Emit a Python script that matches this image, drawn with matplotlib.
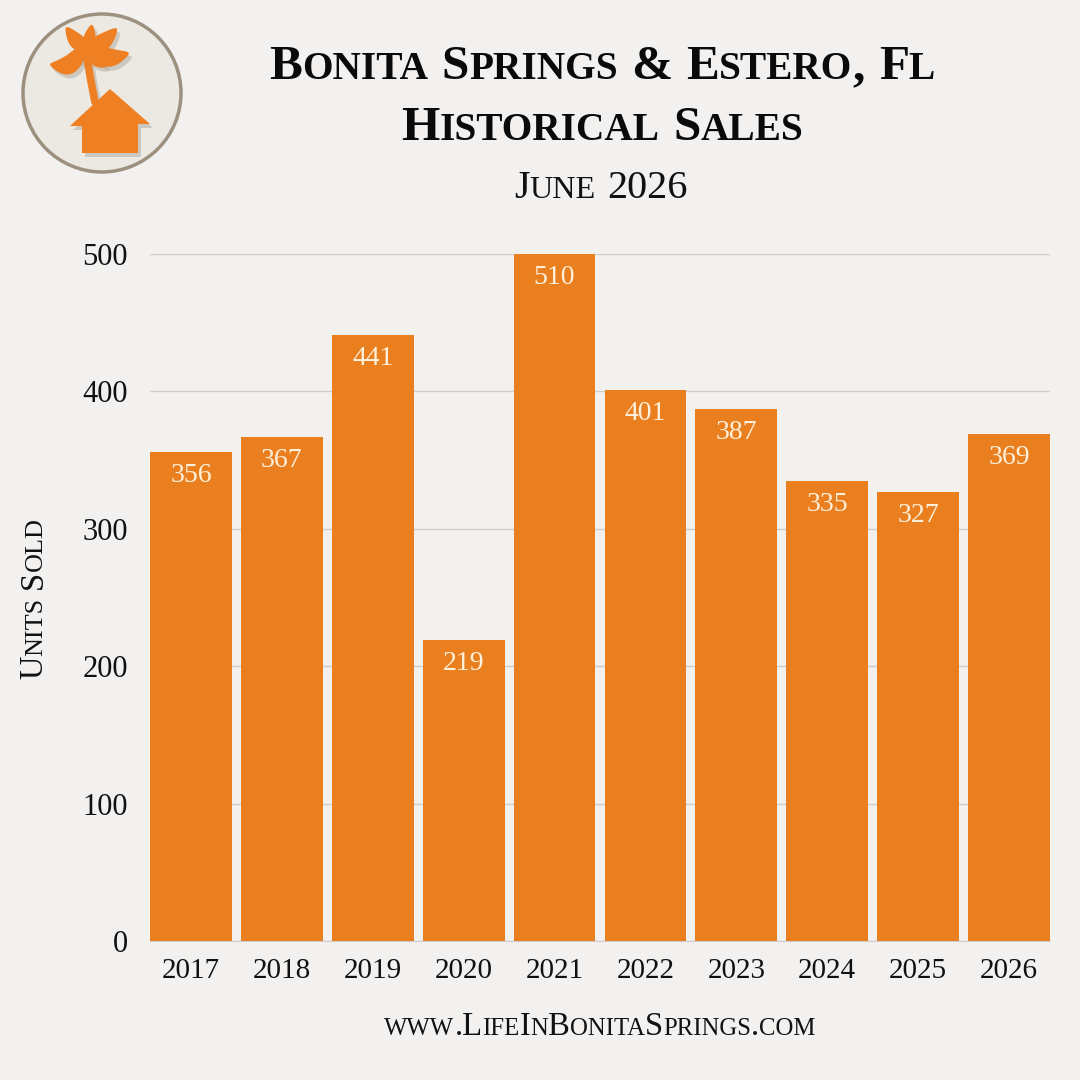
import matplotlib
matplotlib.use('Agg')
import matplotlib.pyplot as plt
from matplotlib.patches import Circle, Polygon
import numpy as np

# Datos del grafico
years = ['2017', '2018', '2019', '2020', '2021', '2022', '2023', '2024', '2025', '2026']
units = [356, 367, 441, 219, 510, 401, 387, 335, 327, 369]
yticks = [0, 100, 200, 300, 400, 500]

title1 = 'Bonita Springs & Estero, Fl'
title2 = 'Historical Sales'
subtitle = 'June 2026'
ylabel = 'Units Sold'
footer = 'www.LifeInBonitaSprings.com'

BG = '#F3F1EF'
ORANGE = '#EA7F20'
LABEL = '#FDF0DA'
FONT = ['Liberation Serif', 'DejaVu Serif']

plt.rcParams['font.family'] = FONT

W, H, DPI = 10.8, 10.8, 100
fig = plt.figure(figsize=(W, H), dpi=DPI, facecolor=BG)


def small_caps(xpx, ypx, s, size, rotation=0, ratio=0.8, **kw):
    """Escribe texto en versalitas, centrado en (xpx, ypx) sobre la linea base (pixeles desde arriba)."""
    runs = []
    for ch in s:
        kind = 'space' if ch == ' ' else ('small' if ch.islower() else 'big')
        if runs and runs[-1][1] == kind:
            runs[-1][0] += ch
        else:
            runs.append([ch, kind])
    renderer = fig.canvas.get_renderer()
    items = []
    for txt, kind in runs:
        if kind == 'space':
            items.append((None, size * 0.28 * len(txt) * DPI / 72))
            continue
        fs = size * (ratio if kind == 'small' else 1)
        t = fig.text(0, 0, txt.upper(), fontsize=fs, ha='left', va='baseline', **kw)
        w = t.get_window_extent(renderer).width
        items.append((t, w))
    total = sum(w for _, w in items)
    figw, figh = W * DPI, H * DPI
    pos = -total / 2
    for t, w in items:
        if t is not None:
            if rotation == 90:
                t.set_position((xpx / figw, 1 - (ypx - pos) / figh))
                t.set_rotation(90)
                t.set_rotation_mode('anchor')
            else:
                t.set_position(((xpx + pos) / figw, 1 - ypx / figh))
        pos += w


def leaf(base, tip, width, droop):
    # hoja de palmera como poligono en coordenadas de pixel (y hacia abajo)
    b = np.array(base, float)
    d = np.array(tip, float) - b
    n = np.array([-d[1], d[0]]) / np.hypot(*d)
    s = np.linspace(0, 1, 30)
    center = b + np.outer(s, d) + np.outer(droop * np.sin(np.pi * s * 0.9), [0, 1])
    hw = width * np.sin(np.pi * s) ** 0.6 * (1 - 0.3 * s)
    upper = center + hw[:, None] * n
    lower = center - hw[:, None] * n
    return np.vstack([upper, lower[::-1]])


# Ejes principales
ax = fig.add_axes([150 / 1080, 1 - 941 / 1080, 900 / 1080, 687 / 1080])
ax.set_facecolor(BG)
x = np.arange(len(years))
ax.bar(x, units, width=0.9, color=ORANGE, zorder=3)
ax.set_xlim(-0.45, len(years) - 0.55)
ax.set_ylim(0, 500)
ax.set_yticks(yticks)
ax.set_yticklabels([str(v) for v in yticks])
ax.set_xticks(x)
ax.set_xticklabels(years)
ax.tick_params(axis='both', length=0, colors='#111111')
ax.tick_params(axis='y', pad=16, labelsize=22)
ax.tick_params(axis='x', pad=12, labelsize=21)
ax.grid(axis='y', color='#CFCDCB', linewidth=1, zorder=0)
for s in ['top', 'right', 'left']:
    ax.spines[s].set_visible(False)
ax.spines['bottom'].set_color('#CFCDCB')

for xi, v in zip(x, units):
    ax.annotate(str(v), (xi, min(v, 500)), xytext=(0, -17), textcoords='offset points',
                ha='center', va='center', fontsize=20, color=LABEL, zorder=4)

# Titulos
small_caps(602, 79, title1, 35.5, fontweight='bold', color='#0A0A0A')
small_caps(602, 140, title2, 35.5, fontweight='bold', color='#0A0A0A')
small_caps(601, 198, subtitle, 29, color='#111111')
small_caps(42, 598, ylabel, 23.5, rotation=90, color='#111111')
small_caps(600, 1035, footer, 23.5, ratio=0.76, color='#111111')

# Logo
lax = fig.add_axes([0, 1 - 190 / 1080, 200 / 1080, 190 / 1080])
lax.set_xlim(0, 200)
lax.set_ylim(190, 0)
lax.set_aspect('equal')
lax.axis('off')
lax.add_patch(Circle((102, 93), 79, facecolor='#ECE9E3', edgecolor='#9D907F', linewidth=2.5))

house = [(82, 153), (82, 126), (70, 126), (110, 89), (150, 124), (138, 124), (138, 153)]
crown = (87, 48)
fronds = [((50, 62), 11, 10), ((66, 26), 9, 4), ((117, 27), 10, 5), ((129, 51), 11, 8),
          ((106, 66), 7, 3), ((68, 55), 8, 4), ((92, 24), 7, 2)]
for (dx, dy), col, z, al in [((3, 4), '#B5ADA3', 1, 0.55), ((0, 0), '#EE7F22', 2, 1)]:
    lax.plot([95 + dx, 90 + dx, 86 + dx], [102 + dy, 76 + dy, 50 + dy], color=col,
             linewidth=5.5, solid_capstyle='round', zorder=z, alpha=al)
    for tip, w, dr in fronds:
        pts = leaf(crown, tip, w, dr) + [dx, dy]
        lax.add_patch(Polygon(pts, closed=True, color=col, zorder=z, alpha=al, linewidth=0))
    lax.add_patch(Polygon([(px + dx, py + dy) for px, py in house], closed=True, color=col,
                          zorder=z, alpha=al, linewidth=0))

fig.savefig('out.png', dpi=DPI, facecolor=BG)
